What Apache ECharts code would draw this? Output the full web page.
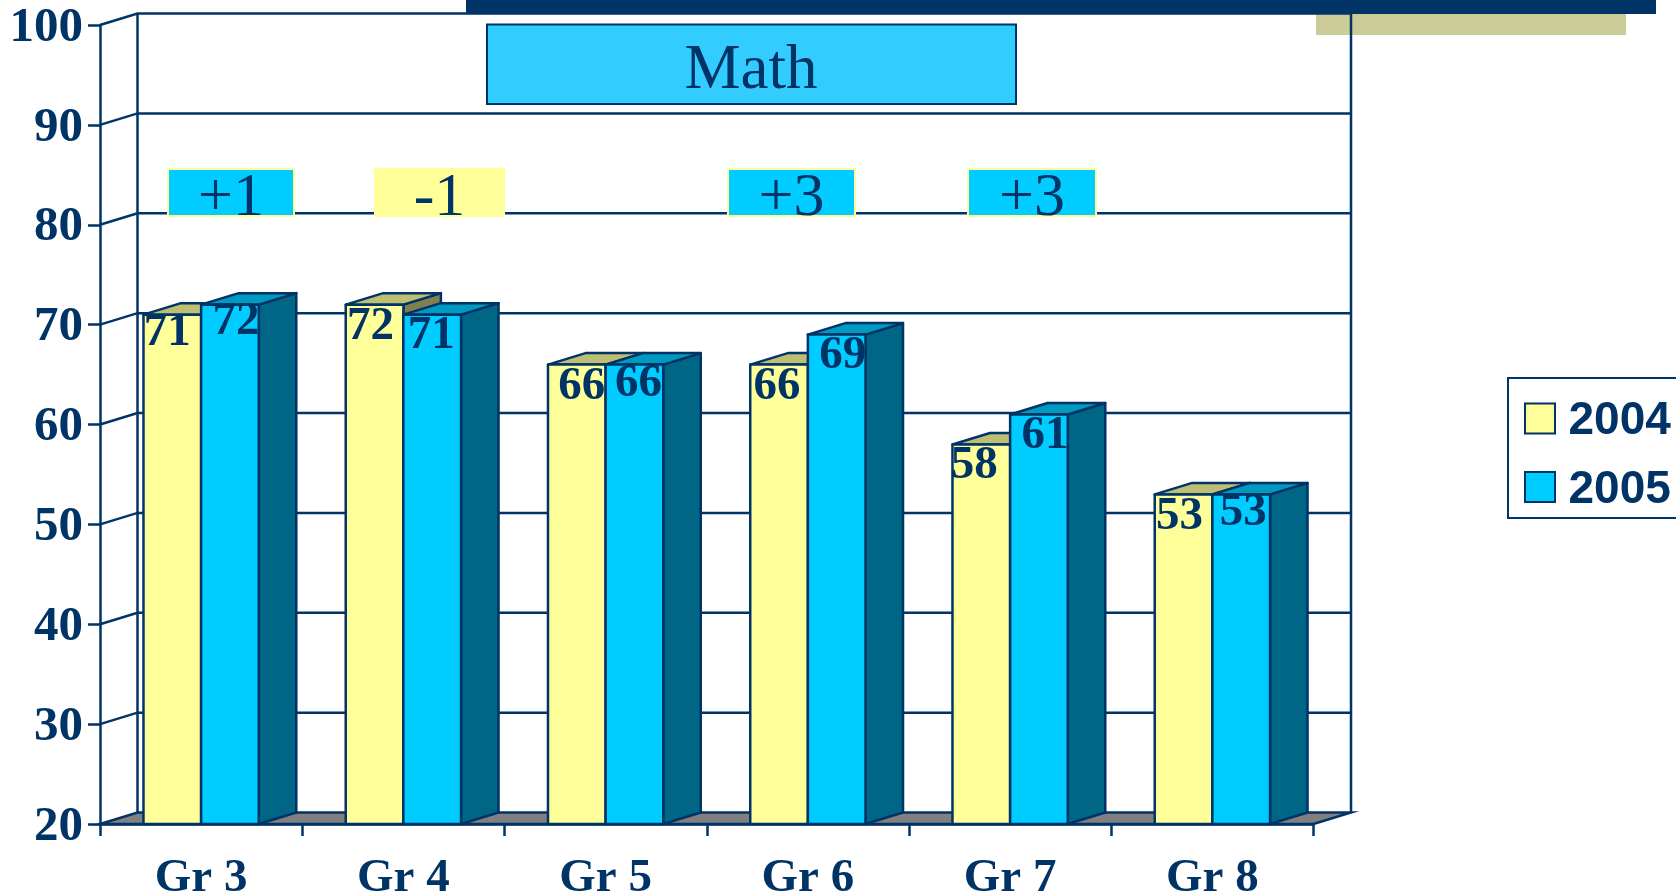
<!DOCTYPE html>
<html>
<head>
<meta charset="utf-8">
<title>Math</title>
<script src="https://cdn.jsdelivr.net/npm/echarts@6/dist/echarts.min.js"></script>
<style>
  html, body { margin: 0; padding: 0; background: #fff; overflow: hidden; }
  #chart { width: 1676px; height: 895px; }
</style>
</head>
<body>
<div id="chart"></div>
<script>
const grades = ['Gr 3', 'Gr 4', 'Gr 5', 'Gr 6', 'Gr 7', 'Gr 8'];
const scores2004 = [71, 72, 66, 66, 58, 53];
const scores2005 = [72, 71, 66, 69, 61, 53];
const yTicks = [20, 30, 40, 50, 60, 70, 80, 90, 100];
const changeLabels = ['+1', '-1', '+3', '+3'];

// the value labels were placed by hand in the original, so nudge each one
const nudge2004 = [[-5, -3], [-4, 1], [5, 1], [-2, 1], [-7, 0], [-4, 1]];
const nudge2005 = [[6, -4], [-1, 0], [4, -2], [6, 0], [6, 0], [2, -3]];
const changeBoxes = [
  { x: 168, w: 126, fill: '#00ccff', stroke: '#ffff99' },
  { x: 375, w: 129, fill: '#ffff99', stroke: '#ffff99' },
  { x: 728, w: 127, fill: '#00ccff', stroke: '#ffff99' },
  { x: 968, w: 128, fill: '#00ccff', stroke: '#ffff99' }
];

const NAVY = '#003366';
const DEPTH_X = 37.5;
const DEPTH_Y = 11.5;
const BAR_RATIO = 0.285;
const LINE_W = 2.5;
const SERIF = '"Liberation Serif", serif';
const SANS = '"Liberation Sans", sans-serif';

const chart = echarts.init(document.getElementById('chart'));

// back wall, floor and the slanted lines between the axis and the wall
function renderWall(params, api) {
  const v = api.value(0);
  const left = api.coord([0, v]);
  const right = api.coord([grades.length - 1, v]);
  const band = api.size([1, 0])[0];
  const x0 = left[0] - band / 2;
  const x1 = right[0] + band / 2;
  const y = left[1];
  const line = { stroke: NAVY, lineWidth: LINE_W, fill: null };
  const children = [];
  if (v === yTicks[0]) {
    children.push({
      type: 'polygon',
      shape: { points: [[x0, y], [x1, y], [x1 + DEPTH_X, y - DEPTH_Y], [x0 + DEPTH_X, y - DEPTH_Y]] },
      style: { fill: '#808080', stroke: NAVY, lineWidth: LINE_W }
    });
    const top = api.coord([0, yTicks[yTicks.length - 1]])[1] - DEPTH_Y;
    children.push({
      type: 'line',
      shape: { x1: x0 + DEPTH_X, y1: y - DEPTH_Y, x2: x0 + DEPTH_X, y2: top },
      style: line
    });
    children.push({
      type: 'line',
      shape: { x1: x1 + DEPTH_X, y1: y - DEPTH_Y, x2: x1 + DEPTH_X, y2: top },
      style: line
    });
  } else {
    children.push({
      type: 'polyline',
      shape: { points: [[x0, y], [x0 + DEPTH_X, y - DEPTH_Y], [x1 + DEPTH_X, y - DEPTH_Y]] },
      style: line
    });
  }
  return { type: 'group', children: children };
}

function barRenderer(side, colors, nudges) {
  return function (params, api) {
    const i = api.value(0);
    const top = api.coord([i, api.value(1)]);
    const bottom = api.coord([i, yTicks[0]]);
    const w = api.size([1, 0])[0] * BAR_RATIO;
    const x0 = side < 0 ? top[0] - w : top[0];
    const x1 = x0 + w;
    const y = top[1];
    const edge = { stroke: NAVY, lineWidth: LINE_W, lineJoin: 'round' };
    return {
      type: 'group',
      children: [
        {
          type: 'polygon',
          shape: { points: [[x1, y], [x1 + DEPTH_X, y - DEPTH_Y], [x1 + DEPTH_X, bottom[1] - DEPTH_Y], [x1, bottom[1]]] },
          style: Object.assign({ fill: colors.side }, edge)
        },
        {
          type: 'polygon',
          shape: { points: [[x0, y], [x0 + DEPTH_X, y - DEPTH_Y], [x1 + DEPTH_X, y - DEPTH_Y], [x1, y]] },
          style: Object.assign({ fill: colors.top }, edge)
        },
        {
          type: 'rect',
          shape: { x: x0, y: y, width: w, height: bottom[1] - y },
          style: Object.assign({ fill: colors.front }, edge)
        },
        {
          type: 'text',
          z2: 10,
          style: {
            text: String(api.value(1)),
            x: (x0 + x1) / 2 + nudges[i][0],
            y: y + 21.5 + nudges[i][1],
            align: 'center',
            verticalAlign: 'middle',
            font: 'bold 47px ' + SERIF,
            fill: NAVY
          }
        }
      ]
    };
  };
}

const changeGraphics = changeLabels.map(function (label, i) {
  const box = changeBoxes[i];
  return {
    type: 'group',
    z: 10,
    children: [
      {
        type: 'rect',
        z: 10,
        shape: { x: box.x, y: 169, width: box.w, height: 47 },
        style: { fill: box.fill, stroke: box.stroke, lineWidth: 2 }
      },
      {
        type: 'text',
        z: 11,
        style: {
          text: label,
          x: box.x + box.w / 2,
          y: 199,
          align: 'center',
          verticalAlign: 'middle',
          font: '62px ' + SERIF,
          fill: NAVY
        }
      }
    ]
  };
});

chart.setOption({
  backgroundColor: '#fff',
  animation: false,
  grid: { left: 100, right: 362.5, top: 25, bottom: 71, outerBoundsMode: 'none' },
  legend: {
    data: ['2004', '2005'],
    orient: 'vertical',
    left: 1508,
    top: 378,
    padding: [20.5, 16, 5, 16],
    itemWidth: 30,
    itemHeight: 30,
    itemGap: 22.5,
    icon: 'rect',
    backgroundColor: '#fff',
    borderColor: NAVY,
    borderWidth: 2,
    borderRadius: 0,
    formatter: '{t|{name}}',
    textStyle: {
      color: NAVY,
      rich: {
        t: { color: NAVY, fontFamily: SANS, fontWeight: 'bold', fontSize: 46, padding: [6, 0, 0, 8.5] }
      }
    }
  },
  xAxis: {
    type: 'category',
    data: grades,
    axisLine: { lineStyle: { color: NAVY, width: LINE_W } },
    axisTick: { show: true, alignWithLabel: false, length: 12, lineStyle: { color: NAVY, width: LINE_W } },
    axisLabel: { color: NAVY, fontFamily: SERIF, fontWeight: 'bold', fontSize: 47, margin: 31 },
    splitLine: { show: false }
  },
  yAxis: {
    type: 'value',
    min: 20,
    max: 100,
    interval: 10,
    axisLine: { show: true, lineStyle: { color: NAVY, width: LINE_W } },
    axisTick: { show: true, length: 12, lineStyle: { color: NAVY, width: LINE_W } },
    axisLabel: {
      margin: 17,
      formatter: '{t|{value}}',
      rich: {
        t: { color: NAVY, fontFamily: SERIF, fontWeight: 'bold', fontSize: 49, padding: [6, 0, 0, 0] }
      }
    },
    splitLine: { show: false }
  },
  series: [
    {
      name: 'wall',
      type: 'custom',
      z: 1,
      clip: false,
      silent: true,
      data: yTicks.map(function (v) { return [v]; }),
      encode: { y: 0 },
      renderItem: renderWall
    },
    {
      name: '2004',
      type: 'custom',
      z: 3,
      clip: false,
      itemStyle: { color: '#ffff99', borderColor: NAVY, borderWidth: 2.5 },
      data: scores2004.map(function (v, i) { return [i, v]; }),
      encode: { x: 0, y: 1 },
      renderItem: barRenderer(-1, { front: '#ffff99', top: '#bfbf73', side: '#80804d' }, nudge2004)
    },
    {
      name: '2005',
      type: 'custom',
      z: 4,
      clip: false,
      itemStyle: { color: '#00ccff', borderColor: NAVY, borderWidth: 2.5 },
      data: scores2005.map(function (v, i) { return [i, v]; }),
      encode: { x: 0, y: 1 },
      renderItem: barRenderer(1, { front: '#00ccff', top: '#0099bf', side: '#006685' }, nudge2005)
    }
  ],
  graphic: [
    { type: 'rect', z: 0, shape: { x: 1316, y: 13, width: 310, height: 22 }, style: { fill: '#cccc99' } },
    { type: 'rect', z: 10, shape: { x: 466, y: 0, width: 1190, height: 14 }, style: { fill: NAVY } },
    {
      type: 'rect',
      z: 10,
      shape: { x: 487, y: 24.5, width: 529, height: 79.5 },
      style: { fill: '#33ccff', stroke: NAVY, lineWidth: 2 }
    },
    {
      type: 'text',
      z: 11,
      style: {
        text: 'Math',
        x: 751,
        y: 71,
        align: 'center',
        verticalAlign: 'middle',
        font: '63px ' + SERIF,
        fill: NAVY
      }
    }
  ].concat(changeGraphics)
});
</script>
</body>
</html>
